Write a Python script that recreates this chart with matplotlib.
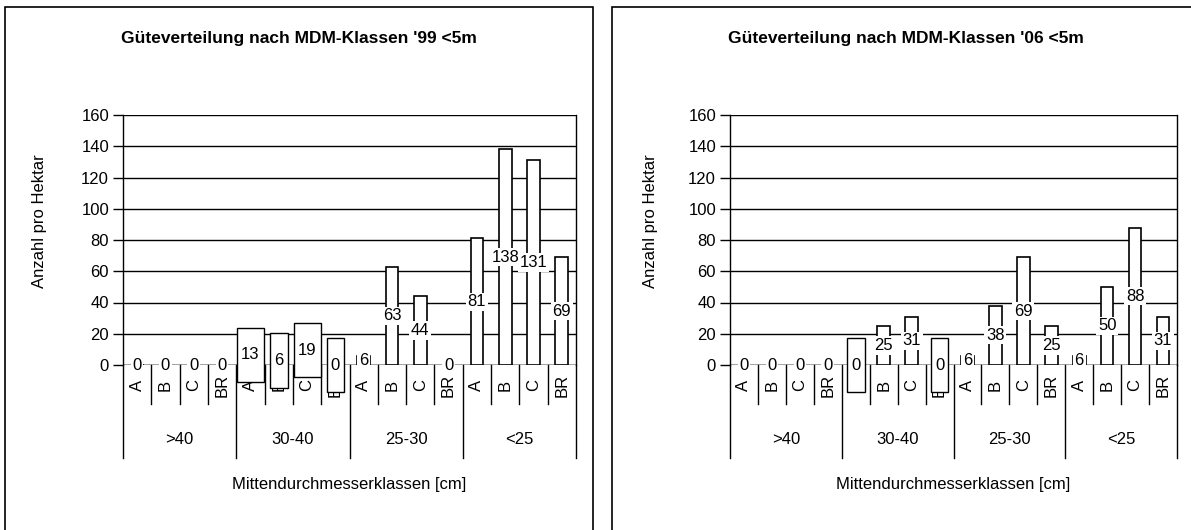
import matplotlib
matplotlib.use('Agg')
import matplotlib.pyplot as plt
from matplotlib import font_manager
from matplotlib.patches import Rectangle
import matplotlib.transforms as mtransforms

# Schmale Schrift, falls vorhanden
_names = set(f.name for f in font_manager.fontManager.ttflist)
NARROW = 'Liberation Sans Narrow' if 'Liberation Sans Narrow' in _names else 'Liberation Sans'
plt.rcParams['font.family'] = [NARROW, 'DejaVu Sans']
plt.rcParams['font.size'] = 11

# Daten
groups = ['>40', '30-40', '25-30', '<25']
grades = ['A', 'B', 'C', 'BR']
values_99 = [0, 0, 0, 0, 13, 6, 19, 0, 6, 63, 44, 0, 81, 138, 131, 69]
values_06 = [0, 0, 0, 0, 0, 25, 31, 0, 6, 38, 69, 25, 6, 50, 88, 31]
boxed_99 = [4, 5, 6, 7]
boxed_06 = [4, 7]
titles = ["Güteverteilung nach MDM-Klassen '99 <5m",
          "Güteverteilung nach MDM-Klassen '06 <5m"]
yticks = [0, 20, 40, 60, 80, 100, 120, 140, 160]

fig = plt.figure(figsize=(11.91, 5.30), dpi=100)
W, H = 1191, 530


def panel(ax, values, boxed, title, frame_x0, frame_x1, ylab_x):
    n = len(values)
    x = [i + 0.5 for i in range(n)]
    ax.bar(x, values, width=0.45, color='white', edgecolor='black', linewidth=1.2, zorder=3)
    ax.set_xlim(0, n)
    ax.set_ylim(0, 160)
    ax.set_yticks(yticks)
    ax.yaxis.grid(True, color='black', linewidth=1.0)
    ax.set_axisbelow(True)
    ax.set_xticks([])
    ax.tick_params(axis='y', length=7, width=1, pad=3, labelsize=12)
    for s in ax.spines.values():
        s.set_linewidth(1.0)
    ax.spines['top'].set_visible(False)
    ax.spines['bottom'].set_visible(False)
    ax.axhline(0, color='black', linewidth=1.0, zorder=2)

    # Datenbeschriftung
    for i, v in enumerate(values):
        if i in boxed:
            ax.text(x[i], v / 2, '\n%d\n' % v, ha='center', va='center', fontsize=12,
                    linespacing=1.05, zorder=5,
                    bbox=dict(boxstyle='square,pad=0.25', facecolor='white', edgecolor='black', linewidth=1.0))
        else:
            ax.text(x[i], v / 2, '%d' % v, ha='center', va='center', fontsize=12, zorder=5,
                    bbox=dict(boxstyle='square,pad=0.1', facecolor='white', edgecolor='none'))

    # Kategorie-Achse (zweistufig)
    trans = mtransforms.blended_transform_factory(ax.transData, ax.transAxes)
    for i in range(n):
        ax.text(x[i], -0.08, grades[i % 4], rotation=90, ha='center', va='center',
                fontsize=12, transform=trans, clip_on=False)
        if i % 4 != 0:
            ax.plot([i, i], [0, -0.156], color='black', linewidth=1.0, transform=trans, clip_on=False)
    for g in range(len(groups) + 1):
        ax.plot([g * 4, g * 4], [0, -0.372], color='black', linewidth=1.0, transform=trans, clip_on=False)
    for g, name in enumerate(groups):
        ax.text(g * 4 + 2, -0.30, name, ha='center', va='center', fontsize=12,
                transform=trans, clip_on=False)
    ax.text(0.5, -0.48, 'Mittendurchmesserklassen [cm]', ha='center', va='center',
            fontsize=12, transform=ax.transAxes, clip_on=False)

    # Rahmen um das Diagramm
    fig.patches.append(Rectangle((frame_x0 / W, -0.02), (frame_x1 - frame_x0) / W, (H - 7) / H + 0.02,
                                 transform=fig.transFigure, facecolor='none', edgecolor='black',
                                 linewidth=1.2))
    fig.text((frame_x0 + frame_x1) / 2 / W, 1 - 38 / H, title, ha='center', va='center',
             fontsize=12.5, fontweight='bold', family=['Liberation Sans', 'DejaVu Sans'])
    fig.text(ylab_x / W, 1 - 221 / H, 'Anzahl pro Hektar', rotation=90, ha='center', va='center',
             fontsize=12)


ax1 = fig.add_axes([123 / W, 1 - 365 / H, 453 / W, 250 / H])
ax2 = fig.add_axes([730 / W, 1 - 365 / H, 447 / W, 250 / H])
panel(ax1, values_99, boxed_99, titles[0], 5, 593, 40)
panel(ax2, values_06, boxed_06, titles[1], 612, 1200, 650)

fig.savefig('out.png', dpi=100)
